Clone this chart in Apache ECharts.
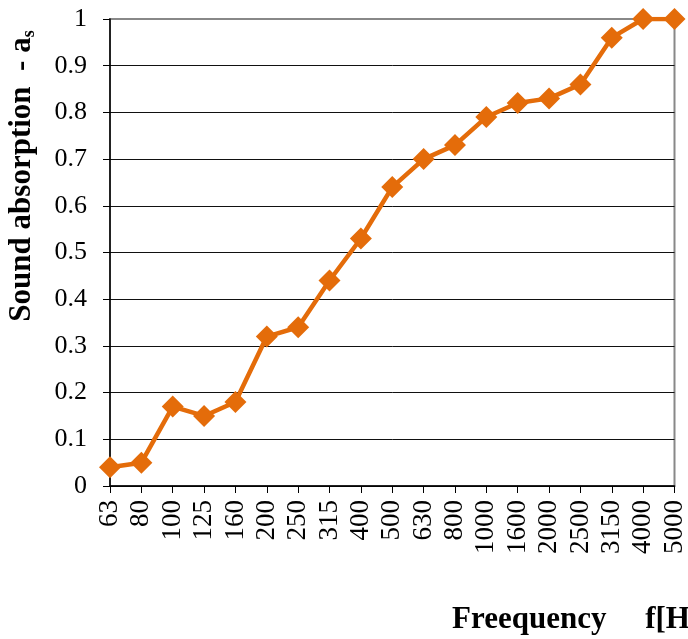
<!DOCTYPE html>
<html>
<head>
<meta charset="utf-8">
<script src="https://cdn.jsdelivr.net/npm/echarts@6/dist/echarts.min.js"></script>
<style>
html,body{margin:0;padding:0;background:#fff;}
#chart{width:688px;height:639px;}
</style>
</head>
<body>
<div id="chart"></div>
<script>
const categories = ['63','80','100','125','160','200','250','315','400','500','630','800','1000','1600','2000','2500','3150','4000','5000'];
const absorption = [0.04,0.05,0.17,0.15,0.18,0.32,0.34,0.44,0.53,0.64,0.70,0.73,0.79,0.82,0.83,0.86,0.96,1.0,1.0];
const yTitle = 'Sound absorption  - a';
const yTitleSub = 's';
const xTitle = 'Freequency     f[Hz]';

const chart = echarts.init(document.getElementById('chart'), null, {renderer:'canvas'});
const serif = '"Liberation Serif","Times New Roman",serif';
const splitColors = [];
for (let i = 0; i < 10; i++) splitColors.push('#111');
splitColors.push('#888');

chart.setOption({
  animation: false,
  backgroundColor: '#fff',
  grid: {left:110, right:10, top:19, bottom:153, show:true, borderColor:'#888', borderWidth:2, backgroundColor:'transparent'},
  xAxis: {
    type:'category', data:categories, boundaryGap:false,
    axisLine:{lineStyle:{color:'#000', width:1.5}},
    axisTick:{show:true, length:7, alignWithLabel:true, lineStyle:{color:'#000'}},
    axisLabel:{rotate:90, margin:14, color:'#000', fontFamily:serif, fontSize:27, interval:0},
    splitLine:{show:false}
  },
  yAxis: {
    type:'value', min:0, max:1, interval:0.1,
    axisLine:{show:true, lineStyle:{color:'#000', width:1.5}},
    axisTick:{show:true, length:7, lineStyle:{color:'#000'}},
    axisLabel:{margin:23, color:'#000', fontFamily:serif, fontSize:26,
      formatter: v => (Math.round(v*10)/10).toString()},
    splitLine:{show:true, lineStyle:{color:splitColors, width:1}}
  },
  series: [{
    type:'line', data:absorption,
    symbol:'diamond', symbolSize:22,
    lineStyle:{color:'#E46C0A', width:4.5},
    itemStyle:{color:'#E46C0A'},
    z:5
  }],
  graphic: [
    {
      type:'text', x:22, y:176, rotation:Math.PI/2,
      style:{
        text:'{t|' + yTitle + '}{sub|' + yTitleSub + '}',
        align:'center', verticalAlign:'middle',
        rich:{
          t:{fontFamily:serif, fontWeight:'bold', fontSize:31, fill:'#000', lineHeight:34},
          sub:{fontFamily:serif, fontWeight:'bold', fontSize:18, fill:'#000', lineHeight:34, padding:[14,0,0,0]}
        }
      }
    },
    {
      type:'text', left:452, top:604,
      style:{text:xTitle, fontFamily:serif, fontWeight:'bold', fontSize:31, fill:'#000'}
    }
  ]
});
</script>
</body>
</html>
